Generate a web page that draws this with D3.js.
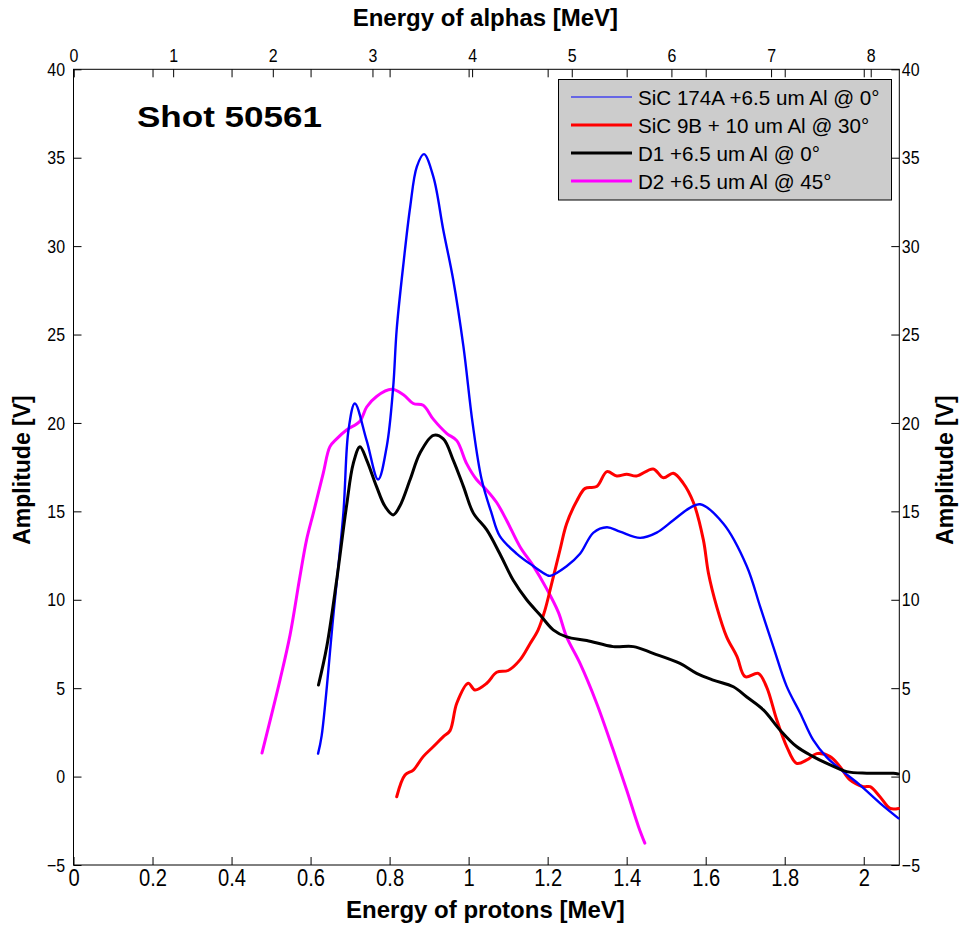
<!DOCTYPE html>
<html><head><meta charset="utf-8">
<script src="https://cdn.jsdelivr.net/npm/d3@7"></script>
<style>
html,body{margin:0;padding:0;background:#fff;}
text{font-family:"Liberation Sans",Arial,sans-serif;}
</style></head>
<body><svg id="chart" width="962" height="929"></svg>
<script>
// ---- Data (energy of protons [MeV], amplitude [V]) ----
const seriesNames = ["SiC 174A +6.5 um Al @ 0°", "SiC 9B + 10 um Al @ 30°", "D1 +6.5 um Al @ 0°", "D2 +6.5 um Al @ 45°"];
const seriesColors = ["#0000ff", "#ff0000", "#000000", "#ff00ff"];

const sic174aE = [0.619,0.628,0.658,0.683,0.696,0.712,0.742,0.771,0.793,0.809,0.818,0.836,0.852,0.869,0.887,0.911,0.936,0.961,0.987,1.010,1.033,1.058,1.079,1.122,1.164,1.198,1.206,1.248,1.282,1.316,1.350,1.383,1.434,1.476,1.518,1.560,1.586,1.645,1.704,1.738,1.771,1.805,1.839,1.872,1.906,1.948,1.990,2.041,2.088];
const sic174aV = [1.3,2.3,9.2,14.9,19.6,21.1,19.0,16.8,18.7,22.0,25.3,29.2,32.2,34.5,35.2,33.9,30.9,28.1,24.3,20.0,16.8,14.9,13.6,12.6,11.9,11.4,11.35,11.9,12.6,13.8,14.1,13.85,13.5,13.8,14.5,15.2,15.4,14.3,11.9,9.6,7.35,5.1,3.6,2.07,1.1,0.28,-0.47,-1.5,-2.36];

const sic9bE = [0.818,0.839,0.860,0.885,0.911,0.936,0.953,0.970,0.999,1.016,1.046,1.071,1.100,1.130,1.155,1.176,1.193,1.210,1.231,1.248,1.274,1.295,1.324,1.350,1.375,1.400,1.425,1.467,1.493,1.518,1.543,1.569,1.594,1.607,1.628,1.653,1.679,1.700,1.733,1.754,1.780,1.805,1.830,1.856,1.881,1.915,1.940,1.965,1.999,2.016,2.041,2.067,2.088];
const sic9bV = [-1.14,0.09,0.37,1.13,1.7,2.26,2.6,4.15,5.28,4.9,5.28,5.9,6.0,6.6,7.5,8.3,9.4,10.9,12.8,14.3,15.6,16.3,16.4,17.25,17.0,17.1,17.0,17.4,16.9,17.15,16.6,15.5,13.4,11.5,9.6,7.9,6.8,5.65,5.84,5.08,3.2,1.7,0.75,0.94,1.3,1.13,0.56,-0.19,-0.57,-0.57,-1.14,-1.8,-1.8];

const d1E = [0.620,0.641,0.666,0.691,0.708,0.725,0.742,0.767,0.788,0.809,0.826,0.852,0.877,0.911,0.936,0.961,0.987,1.012,1.046,1.079,1.113,1.147,1.181,1.214,1.248,1.299,1.366,1.417,1.467,1.535,1.577,1.619,1.670,1.704,1.746,1.788,1.830,1.872,1.915,1.957,2.008,2.075,2.087];
const d1V = [5.18,7.35,11.1,15.3,17.7,18.66,17.9,16.4,15.3,14.8,15.3,16.8,18.3,19.3,19.1,17.9,16.4,14.9,13.95,12.6,11.1,10.0,9.14,8.3,7.9,7.7,7.35,7.35,6.97,6.4,5.84,5.46,5.08,4.5,3.77,2.64,1.7,1.13,0.66,0.28,0.19,0.19,0.15];

const d2E = [0.477,0.523,0.548,0.573,0.590,0.607,0.632,0.649,0.666,0.691,0.725,0.742,0.767,0.805,0.835,0.860,0.885,0.911,0.945,0.970,0.995,1.020,1.046,1.071,1.096,1.130,1.164,1.198,1.227,1.248,1.282,1.324,1.366,1.400,1.430,1.446];
const d2V = [1.33,5.5,8.0,11.3,13.4,14.9,17.15,18.66,19.1,19.6,20.1,20.9,21.5,21.9,21.6,21.1,21.0,20.2,19.4,19.0,17.7,16.8,16.2,15.5,14.5,13.0,11.9,10.6,9.3,7.9,6.4,4.15,1.5,-0.76,-2.83,-3.76];

const protonTicks = [0,0.2,0.4,0.6,0.8,1,1.2,1.4,1.6,1.8,2];
const alphaTicks = [0,1,2,3,4,5,6,7,8];
const ampTicks = [-5,0,5,10,15,20,25,30,35,40];
const title = "Shot 50561";

// ---- Layout ----
const L = 73.5, R = 899.3, T = 69.3, B = 865;
const svg = d3.select("#chart");
svg.append("rect").attr("width",962).attr("height",929).attr("fill","#fff");

const x = d3.scaleLinear().domain([0, 2.09]).range([L, R]);
const xa = d3.scaleLinear().domain([0, 2.09*3.965]).range([L, R]);
const y = d3.scaleLinear().domain([-5, 40]).range([B, T]);

// frame
svg.append("rect").attr("x",L).attr("y",T).attr("width",R-L).attr("height",B-T)
  .attr("fill","none").attr("stroke","#000").attr("stroke-width",1);

const SX = 0.84; // condensed look of tick labels
function styleAxis(g, size){
  g.select(".domain").remove();
  g.selectAll(".tick line").attr("stroke","#000");
  g.selectAll(".tick text").attr("fill","#000").style("font-size", size+"px")
    .attr("transform", `scale(${SX},1)`);
}
// bottom
const gb = svg.append("g").attr("transform",`translate(0,${B})`)
  .call(d3.axisBottom(x).tickValues(protonTicks).tickSizeInner(-8).tickSizeOuter(0).tickPadding(4).tickFormat(d3.format("~g")));
styleAxis(gb, 24);
// top proton ticks (no labels)
const gtp = svg.append("g").attr("transform",`translate(0,${T})`)
  .call(d3.axisTop(x).tickValues(protonTicks).tickSizeInner(-8).tickSizeOuter(0).tickFormat(""));
styleAxis(gtp, 19);
// top alpha ticks
const gta = svg.append("g").attr("transform",`translate(0,${T})`)
  .call(d3.axisTop(xa).tickValues(alphaTicks).tickSizeInner(-8).tickSizeOuter(0).tickPadding(7).tickFormat(d3.format("d")));
styleAxis(gta, 19);
// left
const gl = svg.append("g").attr("transform",`translate(${L},0)`)
  .call(d3.axisLeft(y).tickValues(ampTicks).tickSizeInner(-8).tickSizeOuter(0).tickPadding(10).tickFormat(d3.format("d")));
styleAxis(gl, 19);
// right
const gr = svg.append("g").attr("transform",`translate(${R},0)`)
  .call(d3.axisRight(y).tickValues(ampTicks).tickSizeInner(-8).tickSizeOuter(0).tickPadding(3).tickFormat(d3.format("d")));
styleAxis(gr, 19);

// axis labels
svg.append("text").attr("x",(L+R)/2 - 1).attr("y",918).attr("text-anchor","middle")
  .style("font-size","24px").style("font-weight","bold").text("Energy of protons [MeV]");
svg.append("text").attr("x",(L+R)/2 - 1).attr("y",26).attr("text-anchor","middle")
  .style("font-size","24px").style("font-weight","bold").text("Energy of alphas [MeV]");
svg.append("text").attr("transform","translate(30,470) rotate(-90)").attr("text-anchor","middle")
  .style("font-size","23px").style("font-weight","bold").text("Amplitude [V]");
svg.append("text").attr("transform","translate(953,470) rotate(-90)").attr("text-anchor","middle")
  .style("font-size","23px").style("font-weight","bold").text("Amplitude [V]");

// title inside
svg.append("text").attr("x",137).attr("y",127).attr("textLength",185).attr("lengthAdjust","spacingAndGlyphs")
  .style("font-size","30px").style("font-weight","bold").text(title);

// curves
const series = [
  {E: sic174aE, V: sic174aV, w: 2.4},
  {E: sic9bE, V: sic9bV, w: 3},
  {E: d1E, V: d1V, w: 3},
  {E: d2E, V: d2V, w: 3}
];
const line = d3.line().x(d=>x(d[0])).y(d=>y(d[1])).curve(d3.curveCatmullRom.alpha(0.5));
const drawOrder = [3,1,0,2];
drawOrder.forEach(i=>{
  const s = series[i];
  const pts = s.E.map((e,k)=>[e, s.V[k]]);
  svg.append("path").attr("d", line(pts)).attr("fill","none")
    .attr("stroke", seriesColors[i]).attr("stroke-width", s.w)
    .attr("stroke-linejoin","round").attr("stroke-linecap","round");
});

// legend
const lg = svg.append("g");
lg.append("rect").attr("x",558.5).attr("y",79.5).attr("width",333).attr("height",120.5)
  .attr("fill","#cccccc").attr("stroke","#000").attr("stroke-width",1);
const legW = [1, 3, 3, 3];
seriesNames.forEach((n,i)=>{
  const cy = 97 + i*28;
  lg.append("line").attr("x1",571).attr("x2",632).attr("y1",cy).attr("y2",cy)
    .attr("stroke",seriesColors[i]).attr("stroke-width",legW[i]);
  lg.append("text").attr("x",638).attr("y",cy+7.5).style("font-size","20.6px").attr("fill","#000").text(n);
});
</script></body></html>
